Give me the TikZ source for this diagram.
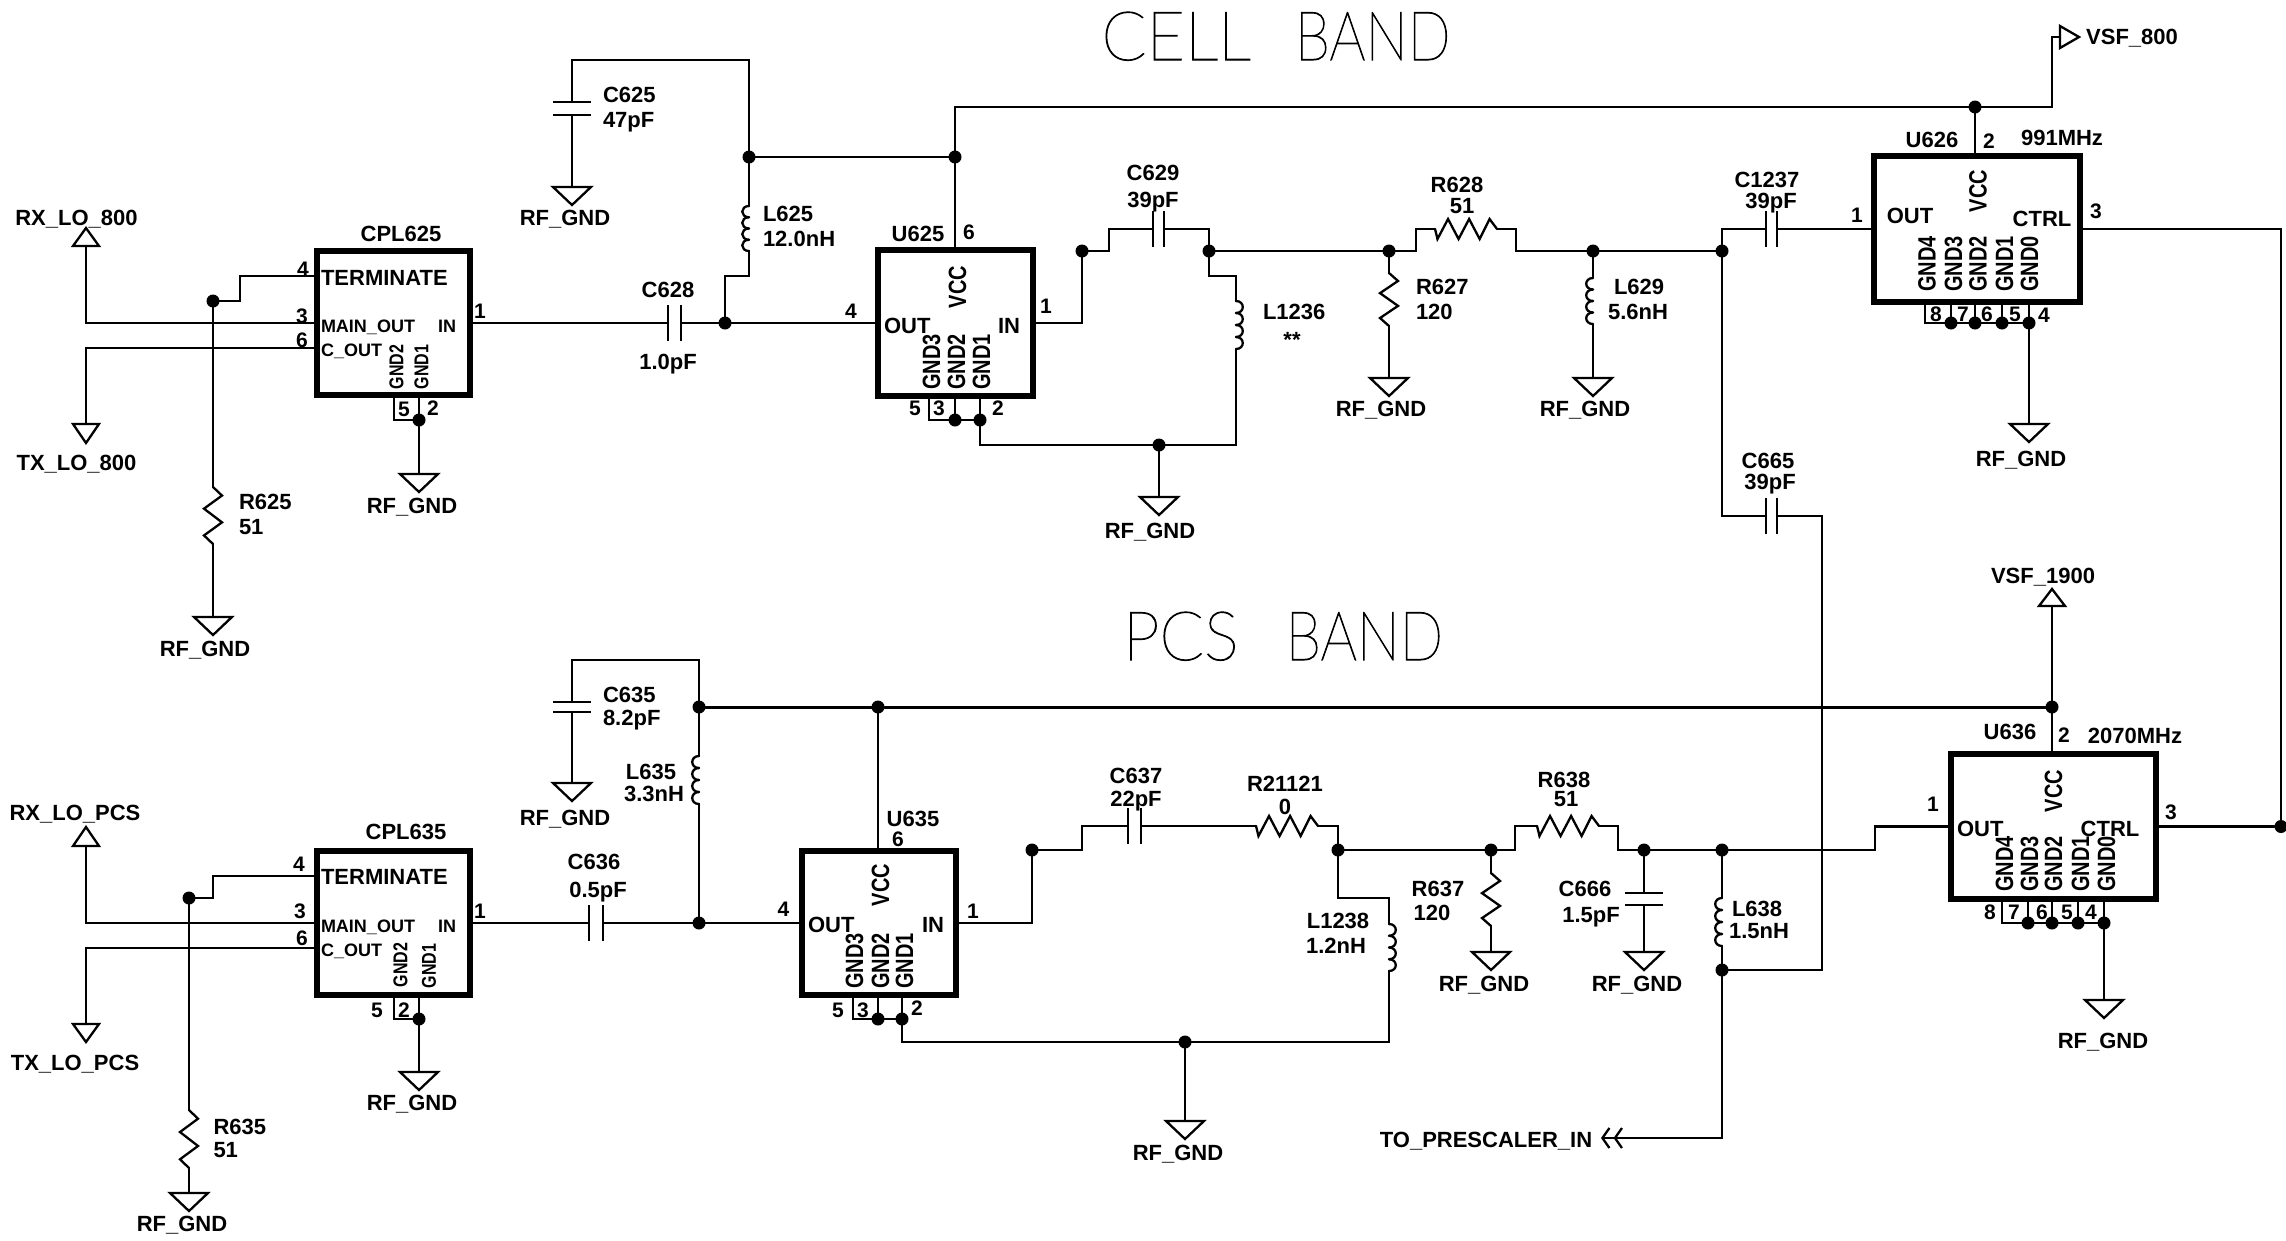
\documentclass[tikz,border=0pt]{standalone}
\usepackage{fontspec}
\usepackage{graphicx}
\setmainfont{Liberation Sans}
\newfontfamily\thinfont[FakeBold=1.5]{Lato Hairline}
\usetikzlibrary{calc,arrows.meta}
\newcount\lblc
\tikzset{
 wire/.style={line width=2.3pt,line cap=round,line join=miter,black},
 bus/.style={wire,line width=3pt},
 plate/.style={line width=2.6pt,black},
 dot/.style={circle,fill=black,inner sep=0pt,minimum size=13pt,outer sep=0pt},
 ic/.style={draw=black,line width=6.5pt,inner sep=0pt,outer sep=0pt,rectangle},
 lab/.style={inner sep=0pt,outer sep=0pt,font=\fontsize{22}{22}\selectfont\bfseries,text height=15.5pt,text depth=0pt},
 pin/.style={lab,font=\fontsize{21}{21}\selectfont\bfseries,text height=15pt},
 sml/.style={lab,font=\fontsize{18}{18}\selectfont\bfseries,text height=13pt},
 mid/.style={lab,font=\fontsize{22}{22}\selectfont\bfseries,text height=16pt},
 gb/.style={lab,rotate=90,font=\fontsize{25}{25}\selectfont\bfseries,text height=18pt},
 gs/.style={lab,rotate=90,font=\fontsize{20}{20}\selectfont\bfseries,text height=14.5pt},
 title/.style={inner sep=0pt,outer sep=0pt,font=\fontsize{68}{68}\selectfont\thinfont,text height=48pt,text depth=0pt},
}
\newcommand\C[2]{\coordinate (#1) at (#2);}
\newcommand\J[2]{\node[dot] (#1) at (#2) {};}
\newcommand\T[3][lab]{\global\advance\lblc by 1 \node[#1] (t\the\lblc) at (#2) {#3};}
\newcommand\SC[1]{\scalebox{.8}[1]{#1}}
\newcommand\ResV[2]{\draw[wire] (#1) -- ($(#1)!.15!(#2)+(9,0)$) -- ($(#1)!.38!(#2)+(-9,0)$) -- ($(#1)!.62!(#2)+(9,0)$) -- ($(#1)!.85!(#2)+(-9,0)$) -- (#2);}
\newcommand\ResH[2]{\draw[wire] (#1) -- ($(#1)!.04!(#2)+(0,10)$) -- ($(#1)!.21!(#2)+(0,-10)$) -- ($(#1)!.38!(#2)+(0,10)$) -- ($(#1)!.55!(#2)+(0,-10)$) -- ($(#1)!.72!(#2)+(0,10)$) -- ($(#1)!.88!(#2)+(0,-10)$) -- (#2);}
\newcommand\Ind[3]{\foreach \k [evaluate=\k as \f using \k/4, evaluate=\k as \g using (\k+1)/4] in {0,1,2,3}{\draw[wire] ($(#1)!\f!(#2)$) .. controls +(#3,0) and +(#3,0) .. ($(#1)!\g!(#2)$);}}
\newcommand\CapV[2]{\draw[plate] ($(#1)+(0,-18)$) -- ($(#1)+(0,18)$); \draw[plate] ($(#2)+(0,-18)$) -- ($(#2)+(0,18)$);}
\newcommand\CapH[2]{\draw[plate] ($(#1)+(-19,0)$) -- ($(#1)+(19,0)$); \draw[plate] ($(#2)+(-19,0)$) -- ($(#2)+(19,0)$);}
\newcommand\Gnd[1]{\draw[wire,line join=miter] ($(#1)+(-19,0)$) -- ($(#1)+(19,0)$) -- ($(#1)+(0,18)$) -- cycle;}
\begin{document}
\begin{tikzpicture}[x=1pt,y=-1pt]
\useasboundingbox (0,0) rectangle (2286,1240);
% titles
\node[title] (cell) at (1276,36) {\scalebox{.97}[1]{CELL}\hspace{44pt}\scalebox{.83}[1]{BAND}};
\node[title] (pcs) at (1283,636) {\scalebox{.96}[1]{PCS}\hspace{47pt}\scalebox{.84}[1]{BAND}};
% ICs
\node[ic,minimum width=153pt,minimum height=144pt] (cpl625) at (393.5,323) {};
\node[ic,minimum width=155pt,minimum height=146pt] (u625) at (955.5,323) {};
\node[ic,minimum width=206pt,minimum height=146pt] (u626) at (1977,229) {};
\node[ic,minimum width=153pt,minimum height=144pt] (cpl635) at (393.5,923) {};
\node[ic,minimum width=154pt,minimum height=144pt] (u635) at (879,923) {};
\node[ic,minimum width=205pt,minimum height=145pt] (u636) at (2053.5,826.5) {};
% junctions, upper
\J{jb1}{749,157} \J{jb2}{955,157} \J{jb3}{1975,107} \J{j628}{725,323}
\J{j625r}{213,301} \J{j625g}{419,420} \J{ju3}{955,420} \J{ju2}{980,420}
\J{jg1}{1159,445} \J{j1082}{1082,251} \J{j1209}{1209,251} \J{j1389}{1389,251}
\J{j1593}{1593,251} \J{j1722}{1722,251}
% junctions, lower
\J{jb5}{699,707} \J{jb6}{878,707} \J{jb7}{2052,707} \J{j636}{699,923}
\J{j635r}{189,898} \J{j635g}{419,1019} \J{jv3}{878,1019} \J{jv2}{902,1019}
\J{j1185}{1185,1042} \J{j1032}{1032,850} \J{j1338}{1338,850} \J{j1491}{1491,850}
\J{j1644}{1644,850} \J{j1722b}{1722,850} \J{jp}{1722,970} \J{j2281}{2281,826.5}
% coordinates upper
\C{rxe}{86,246} \C{txe}{86,424} \C{cpl6}{317,348} \C{cpl4}{317,276}
\C{r625a}{213,487} \C{r625b}{213,544} \C{g625r}{213,617}
\C{cpl5}{394,420} \C{g625c}{419,474}
\C{c625a}{572,102} \C{c625b}{572,115} \C{g625}{572,187} \C{t625}{749,60}
\C{l625a}{749,206} \C{l625b}{749,251}
\C{c628a}{668,323} \C{c628b}{681,323}
\C{bus1}{955,107} \C{vsf8}{2060,37} \C{u5}{929,420}
\C{n1}{1236,445} \C{l1236a}{1236,301} \C{l1236b}{1236,349} \C{g1}{1159,497}
\C{c629a}{1153,229} \C{c629b}{1164,229}
\C{r628a}{1435,229} \C{r628b}{1497,229}
\C{r627a}{1389,273} \C{r627b}{1389,326} \C{g627}{1389,378}
\C{l629a}{1593,278} \C{l629b}{1593,324} \C{g629}{1593,378}
\C{c1237a}{1766,229} \C{c1237b}{1777,229}
\C{c665a}{1766,516} \C{c665b}{1777,516}
\C{u6p8}{1925,323} \C{g626}{2029,424}
% coordinates lower
\C{rxpe}{86,846} \C{txpe}{86,1024} \C{cpl6p}{317,948} \C{cpl4p}{317,876}
\C{r635a}{189,1110} \C{r635b}{189,1168} \C{g635r}{189,1193}
\C{cpl5p}{394,1019} \C{g635c}{419,1072}
\C{c635a}{572,702} \C{c635b}{572,712} \C{g635}{572,783} \C{t635}{699,660}
\C{l635a}{699,756} \C{l635b}{699,804}
\C{c636a}{589,923} \C{c636b}{603,923}
\C{v5}{853,1019} \C{n2}{1389,1042} \C{l1238a}{1389,924} \C{l1238b}{1389,971} \C{g2}{1185,1121}
\C{c637a}{1128,826} \C{c637b}{1141,826} \C{r211a}{1256,826} \C{r211b}{1318,826}
\C{r638a}{1537,826} \C{r638b}{1599,826}
\C{r637a}{1491,873} \C{r637b}{1491,926} \C{g637}{1491,952}
\C{c666a}{1644,893} \C{c666b}{1644,905} \C{g666}{1644,952}
\C{l638a}{1722,898} \C{l638b}{1722,946}
\C{presc}{1601,1138} \C{vsf19}{2052,606} \C{u8}{2002,923} \C{g636}{2104,1000}
% wires upper
\draw[wire] (rxe) |- (cpl625.west);
\draw[wire] (txe) |- (cpl6);
\draw[wire] (cpl4) -| ($(j625r)+(27,0)$) -- (j625r);
\draw[wire] (j625r) -- (r625a); \ResV{r625a}{r625b} \draw[wire] (r625b) -- (g625r); \Gnd{g625r}
\draw[wire] (cpl5|-cpl625.south) -- (cpl5) -- (j625g) -- (j625g|-cpl625.south);
\draw[wire] (j625g) -- (g625c); \Gnd{g625c}
\draw[wire] (c625a) |- (t625) -- (jb1);
\draw[wire] (c625b) -- (g625); \Gnd{g625} \CapH{c625a}{c625b}
\draw[wire] (jb1) -- (l625a); \Ind{l625a}{l625b}{-9}
\draw[wire] (l625b) |- ($(j628)+(0,-47)$) -- (j628);
\draw[wire] (jb1) -- (jb2);
\draw[wire] (bus1) -- (jb2) -- (jb2|-u625.north);
\draw[wire] (bus1) -- (jb3) -| ($(vsf8)+(-8,0)$) -- (vsf8);
\draw[wire] (vsf8)+(0,-11) -- +(19,0) -- +(0,11) -- cycle;
\draw[wire] (jb3) -- (jb3|-u626.north);
\draw[wire] (cpl625.east) -- (c628a); \CapV{c628a}{c628b}
\draw[wire] (c628b) -- (j628) -- (u625.west);
\draw[wire] (u5|-u625.south) -- (u5) -- (ju3) -- (ju2);
\draw[wire] (ju3) -- (ju3|-u625.south);
\draw[wire] (ju2) -- (ju2|-u625.south);
\draw[wire] (ju2) |- (jg1) -- (n1) -- (l1236b);
\Ind{l1236a}{l1236b}{9}
\draw[wire] (l1236a) |- ($(j1209)+(0,25)$) -- (j1209);
\draw[wire] (jg1) -- (g1); \Gnd{g1}
\draw[wire] (u625.east) -| (j1082);
\draw[wire] (j1082) -| ($(c629a)+(-44,0)$) -- (c629a); \CapV{c629a}{c629b}
\draw[wire] (c629b) -| (j1209);
\draw[wire] (j1209) -- (j1389) -| ($(r628a)+(-19,0)$) -- (r628a); \ResH{r628a}{r628b}
\draw[wire] (r628b) -- ($(r628b)+(19,0)$) |- (j1593) -- (j1722);
\draw[wire] (j1389) -- (r627a); \ResV{r627a}{r627b} \draw[wire] (r627b) -- (g627); \Gnd{g627}
\draw[wire] (j1593) -- (l629a); \Ind{l629a}{l629b}{-9} \draw[wire] (l629b) -- (g629); \Gnd{g629}
\draw[wire] (j1722) |- (c1237a); \CapV{c1237a}{c1237b}
\draw[wire] (c1237b) -- (u626.west);
\draw[wire] (j1722) |- (c665a); \CapV{c665a}{c665b}
\draw[wire] (c665b) -| ($(jp)+(100,0)$) -- (jp);
\foreach \x in {1951,1975,2002,2029}{\J{p\x}{\x,323} \draw[wire] (p\x) -- (p\x|-u626.south);}
\draw[wire] (u6p8|-u626.south) -- (u6p8) -- (p2029);
\draw[wire] (p2029) -- (g626); \Gnd{g626}
\draw[wire] (u626.east) -| (j2281);
\draw[wire] (j2281) -- (u636.east);
% wires lower
\draw[wire] (rxpe) |- (cpl635.west);
\draw[wire] (txpe) |- (cpl6p);
\draw[wire] (cpl4p) -| ($(j635r)+(24,0)$) -- (j635r);
\draw[wire] (j635r) -- (r635a); \ResV{r635a}{r635b} \draw[wire] (r635b) -- (g635r); \Gnd{g635r}
\draw[wire] (cpl5p|-cpl635.south) -- (cpl5p) -- (j635g) -- (j635g|-cpl635.south);
\draw[wire] (j635g) -- (g635c); \Gnd{g635c}
\draw[wire] (c635a) |- (t635) -- (jb5);
\draw[wire] (c635b) -- (g635); \Gnd{g635} \CapH{c635a}{c635b}
\draw[wire] (jb5) -- (l635a); \Ind{l635a}{l635b}{-9} \draw[wire] (l635b) -- (j636);
\draw[bus] (jb5) -- (jb6) -- (jb7);
\draw[wire] (jb6) -- (jb6|-u635.north);
\draw[wire] (jb7) -- (vsf19);
\draw[wire] (jb7) -- (jb7|-u636.north);
\draw[wire] (cpl635.east) -- (c636a); \CapV{c636a}{c636b}
\draw[wire] (c636b) -- (j636) -- (u635.west);
\draw[wire] (v5|-u635.south) -- (v5) -- (jv3) -- (jv2);
\draw[wire] (jv3) -- (jv3|-u635.south);
\draw[wire] (jv2) -- (jv2|-u635.south);
\draw[wire] (jv2) |- (j1185) -- (n2) -- (l1238b);
\Ind{l1238a}{l1238b}{9}
\draw[wire] (l1238a) |- ($(j1338)+(0,48)$) -- (j1338);
\draw[wire] (j1185) -- (g2); \Gnd{g2}
\draw[wire] (u635.east) -| (j1032);
\draw[wire] (j1032) -| ($(c637a)+(-46,0)$) -- (c637a); \CapV{c637a}{c637b}
\draw[wire] (c637b) -- (r211a); \ResH{r211a}{r211b}
\draw[wire] (r211b) -| (j1338);
\draw[wire] (j1338) -- (j1491) -| ($(r638a)+(-22,0)$) -- (r638a); \ResH{r638a}{r638b}
\draw[wire] (r638b) -- ($(r638b)+(19,0)$) |- (j1644) -- (j1722b);
\draw[wire] (j1722b) -| ($(u636.west)+(-76,0)$) -- (u636.west);
\draw[wire] (j1491) -- (r637a); \ResV{r637a}{r637b} \draw[wire] (r637b) -- (g637); \Gnd{g637}
\draw[wire] (j1644) -- (c666a); \CapH{c666a}{c666b} \draw[wire] (c666b) -- (g666); \Gnd{g666}
\draw[wire] (j1722b) -- (l638a); \Ind{l638a}{l638b}{-9} \draw[wire] (l638b) -- (jp);
\draw[wire,-{Straight Barb[length=7pt,width=20pt,sep=3pt]Straight Barb[length=7pt,width=20pt]}] (jp) |- (presc);
\foreach \x in {2028,2052,2078,2104}{\J{q\x}{\x,923} \draw[wire] (q\x) -- (q\x|-u636.south);}
\draw[wire] (u8|-u636.south) -- (u8) -- (q2104);
\draw[wire] (q2104) -- (g636); \Gnd{g636}
% port triangles
\draw[wire] (rxe)+(-13,0) -- +(13,0) -- +(0,-18) -- cycle;
\draw[wire] (txe)+(-13,0) -- +(13,0) -- +(0,19) -- cycle;
\draw[wire] (rxpe)+(-13,0) -- +(13,0) -- +(0,-19) -- cycle;
\draw[wire] (txpe)+(-13,0) -- +(13,0) -- +(0,18) -- cycle;
\draw[wire] (vsf19)+(-13,0) -- +(13,0) -- +(0,-17) -- cycle;
% texts upper
\T{76.5,218}{RX\_LO\_800} \T{76.5,463}{TX\_LO\_800}
\T{401,234}{CPL625} \T[lab,anchor=west]{321,278}{TERMINATE}
\T[sml,anchor=west]{321,326}{MAIN\_OUT} \T[sml]{447,326}{IN} \T[sml,anchor=west]{321,350}{C\_OUT}
\T[gs]{396,367}{\SC{GND2}} \T[gs]{421,367}{\SC{GND1}}
\T[pin]{303,269}{4} \T[pin]{302,316}{3} \T[pin]{302,340}{6} \T[pin]{480,311}{1} \T[pin]{404,409}{5} \T[pin]{433,408}{2}
\T{412,506}{RF\_GND}
\T[lab,anchor=west]{239,502}{R625}
\T[lab,anchor=west]{239,527}{51}
\T{205,649}{RF\_GND}
\T[lab,anchor=west]{603,95}{C625} \T[lab,anchor=west]{603,120}{47pF} \T{565,218}{RF\_GND}
\T[lab,anchor=west]{763,214}{L625} \T[lab,anchor=west]{763,239}{12.0nH}
\T{668,290}{C628} \T{668,362}{1.0pF}
\T{918,234}{U625} \T[pin]{969,232}{6} \T[gb]{957,287}{\SC{VCC}}
\T[mid,anchor=west]{884,325}{OUT} \T[mid]{1009,325}{IN}
\T[gb]{931,362}{\SC{GND3}} \T[gb]{956,362}{\SC{GND2}} \T[gb]{981,362}{\SC{GND1}}
\T[pin]{851,311}{4} \T[pin]{1046,306}{1} \T[pin]{915,408}{5} \T[pin]{939,408}{3} \T[pin]{998,408}{2}
\T{1150,531}{RF\_GND}
\T{1153,173}{C629} \T{1153,200}{39pF}
\T[lab,anchor=west]{1263,312}{L1236} \T{1292,340}{**}
\T{1457,185}{R628} \T{1462,206}{51}
\T[lab,anchor=west]{1416,287}{R627} \T[lab,anchor=west]{1416,312}{120} \T{1381,409}{RF\_GND}
\T[lab,anchor=west]{1614,287}{L629} \T[lab,anchor=west]{1608,312}{5.6nH} \T{1585,409}{RF\_GND}
\T{1767,180}{C1237} \T{1771,201}{39pF} \T{1768,461}{C665} \T{1770,482}{39pF}
\T{1932,140}{U626} \T[pin]{1989,141}{2} \T{2062,138}{991MHz}
\T[gb]{1977.5,191}{\SC{VCC}} \T[mid]{1910,215}{OUT} \T[mid]{2042,218}{CTRL}
\T[gb]{1926.5,264}{\SC{GND4}} \T[gb]{1953,264}{\SC{GND3}} \T[gb]{1977.5,264}{\SC{GND2}} \T[gb]{2004,264}{\SC{GND1}} \T[gb]{2029,264}{\SC{GND0}}
\T[pin]{1857,215}{1} \T[pin]{2096,211}{3}
\T[pin]{1936,314}{8} \T[pin]{1963,314}{7} \T[pin]{1987,314}{6} \T[pin]{2015,314}{5} \T[pin]{2044,315}{4}
\T{2021,459}{RF\_GND} \T{2132,37}{VSF\_800}
% texts lower
\T{2043,576}{VSF\_1900}
\T{75,813}{RX\_LO\_PCS} \T{75,1063}{TX\_LO\_PCS}
\T{406,832}{CPL635} \T[lab,anchor=west]{321,877}{TERMINATE}
\T[sml,anchor=west]{321,926}{MAIN\_OUT} \T[sml]{447,926}{IN} \T[sml,anchor=west]{321,950}{C\_OUT}
\T[gs]{400,965}{\SC{GND2}} \T[gs]{428.5,966}{\SC{GND1}}
\T[pin]{299,864}{4} \T[pin]{300,911}{3} \T[pin]{302,938}{6} \T[pin]{480,911}{1} \T[pin]{377,1010}{5} \T[pin]{404,1010}{2}
\T{412,1103}{RF\_GND}
\T[lab,anchor=west]{213.5,1127}{R635} \T[lab,anchor=west]{213.5,1150}{51} \T{182,1224}{RF\_GND}
\T[lab,anchor=west]{603,695}{C635} \T[lab,anchor=west]{603,718}{8.2pF} \T{565,818}{RF\_GND}
\T{651,772}{L635} \T{654,794}{3.3nH}
\T{594,862}{C636} \T{598,890}{0.5pF}
\T{913,819}{U635} \T[pin]{898,839}{6} \T[gb]{880,885}{\SC{VCC}}
\T[mid,anchor=west]{808,924}{OUT} \T[mid]{933,924}{IN}
\T[gb]{854,961}{\SC{GND3}} \T[gb]{880,961}{\SC{GND2}} \T[gb]{904,961}{\SC{GND1}}
\T[pin]{783.5,909}{4} \T[pin]{973,911}{1} \T[pin]{838,1009.5}{5} \T[pin]{863,1009.5}{3} \T[pin]{917,1007.5}{2}
\T{1178,1153}{RF\_GND}
\T{1136,776}{C637} \T{1136,799}{22pF}
\T{1285,784}{R21121} \T{1285,807}{0}
\T{1338,921}{L1238} \T{1336,946}{1.2nH}
\T{1564,780}{R638} \T{1566,799}{51}
\T{1438,889}{R637} \T{1432,913}{120} \T{1484,984}{RF\_GND}
\T{1585,889}{C666} \T{1591,915}{1.5pF} \T{1637,984}{RF\_GND}
\T[lab,anchor=west]{1732,909}{L638} \T[lab,anchor=west]{1729,931}{1.5nH}
\T{1486,1140}{TO\_PRESCALER\_IN}
\T{2010,732}{U636} \T[pin]{2064,735}{2} \T{2135,736}{2070MHz}
\T[gb]{2053,791}{\SC{VCC}} \T[mid,anchor=west]{1957,828}{OUT} \T[mid]{2110,828}{CTRL}
\T[gb]{2004,864}{\SC{GND4}} \T[gb]{2029,864}{\SC{GND3}} \T[gb]{2053,864}{\SC{GND2}} \T[gb]{2080,864}{\SC{GND1}} \T[gb]{2106,864}{\SC{GND0}}
\T[pin]{1933,804}{1} \T[pin]{2171,812}{3}
\T[pin]{1990,912}{8} \T[pin]{2014,912}{7} \T[pin]{2042,912}{6} \T[pin]{2067,912}{5} \T[pin]{2091,912}{4}
\T{2103,1041}{RF\_GND}
\end{tikzpicture}
\end{document}
